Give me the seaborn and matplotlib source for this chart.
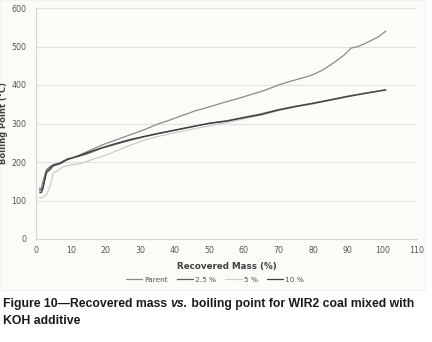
import matplotlib
matplotlib.use('Agg')
import matplotlib.pyplot as plt
import matplotlib.patches as mpatches
import pandas as pd
import seaborn as sns

# Recovered mass (%) and boiling point (degC) for each sample
parent_x = [1, 1.5, 2, 3, 4, 5, 7, 9, 12, 15, 19, 23, 27, 31, 35, 38, 42, 46, 50, 54, 58, 62, 66, 70, 74, 78, 80, 83, 86, 89, 91, 93, 96, 99, 101]
parent_y = [132, 130, 150, 180, 188, 192, 196, 206, 216, 228, 244, 257, 270, 283, 298, 307, 320, 333, 343, 354, 364, 375, 386, 400, 411, 421, 427, 440, 458, 478, 496, 500, 512, 526, 540]

koh25_x = [1, 1.5, 2, 3, 4, 5, 7, 9, 12, 15, 19, 23, 27, 31, 35, 40, 45, 50, 55, 60, 65, 70, 75, 80, 85, 90, 95, 101]
koh25_y = [128, 126, 135, 176, 185, 193, 198, 208, 214, 222, 236, 246, 256, 265, 273, 282, 291, 301, 307, 316, 325, 336, 345, 353, 362, 371, 379, 388]

koh5_x = [1, 2, 3, 4, 5, 6, 8, 10, 13, 16, 19, 23, 27, 31, 35, 40, 45, 50, 55, 60, 65, 70, 75, 80, 85, 90, 95, 101]
koh5_y = [107, 108, 115, 135, 172, 176, 188, 192, 196, 206, 214, 228, 243, 256, 266, 276, 285, 294, 302, 312, 322, 333, 343, 351, 360, 369, 378, 387]

koh10_x = [1, 1.5, 2, 3, 4, 5, 7, 9, 12, 15, 19, 23, 27, 31, 35, 40, 45, 50, 55, 60, 65, 70, 75, 80, 85, 90, 95, 101]
koh10_y = [122, 120, 130, 172, 180, 190, 196, 206, 215, 225, 237, 248, 258, 266, 274, 283, 292, 300, 306, 315, 323, 335, 344, 352, 361, 370, 378, 387]

series_names = ['Parent', '2.5 %', '5 %', '10 %']
series_colors = ['#8a8a8a', '#5c5c5c', '#cdcdcd', '#3e3e3e']

frames = []
for name, xs, ys in zip(series_names, [parent_x, koh25_x, koh5_x, koh10_x],
                        [parent_y, koh25_y, koh5_y, koh10_y]):
    frames.append(pd.DataFrame({'mass': xs, 'bp': ys, 'sample': name}))
df = pd.concat(frames, ignore_index=True)

sns.set_style('white')
plt.rcParams['font.family'] = ['DejaVu Sans']

fig = plt.figure(figsize=(4.32, 3.42), dpi=100)
fig.patch.set_facecolor('white')
# light chart-area panel behind the plot
panel = mpatches.Rectangle((0, 52 / 342), 425 / 432, 1 - 52 / 342,
                           transform=fig.transFigure, facecolor='#fbfbf8',
                           edgecolor='#f0f0ee', lw=0.5, zorder=-10)
fig.add_artist(panel)

ax = fig.add_axes([36 / 432, 1 - 239 / 342, (417 - 36) / 432, (239 - 8) / 342])
ax.set_facecolor('#fbfbf8')

sns.lineplot(data=df, x='mass', y='bp', hue='sample', hue_order=series_names,
             palette=series_colors, estimator=None, sort=False, lw=0.9, ax=ax)

ax.set_xlim(0, 110)
ax.set_ylim(0, 600)
ax.set_xticks(range(0, 111, 10))
ax.set_yticks(range(0, 601, 100))
ax.yaxis.grid(True, color='#e3e3e3', lw=0.8)
ax.set_axisbelow(True)
for s in ['top', 'right']:
    ax.spines[s].set_visible(False)
for s in ['left', 'bottom']:
    ax.spines[s].set_color('#d6d6d6')
    ax.spines[s].set_linewidth(0.8)
ax.tick_params(axis='both', labelsize=5.7, labelcolor='#555555', color='#d6d6d6',
               length=3, width=0.6, direction='out', pad=2)
ax.tick_params(axis='y', pad=4)
ax.set_xlabel('Recovered Mass (%)', fontsize=6.3, fontweight='bold', color='#404040', labelpad=5)
ax.set_ylabel('Boiling Point (\u00b0C)', fontsize=6.0, fontweight='bold', color='#404040', labelpad=2)

ax.legend(loc='upper center', bbox_to_anchor=(0.47, -0.135), ncol=4, frameon=False,
          fontsize=5.3, handlelength=2.2, handletextpad=0.3, columnspacing=1.2,
          labelcolor='#555555')

cap = dict(fontsize=8.8, fontweight='bold', color='#1a1a1a', family='Liberation Sans')
t1 = fig.text(3 / 432, 1 - 310 / 342, 'Figure 10\u2014Recovered mass ', va='bottom', **cap)
t2 = fig.text(0, 0, 'vs.', va='bottom', style='italic', **cap)
fig.canvas.draw()
bb = t1.get_window_extent()
t2.set_x(bb.x1 / fig.bbox.width)
t2.set_y(bb.y0 / fig.bbox.height)
bb2 = t2.get_window_extent()
fig.text(bb2.x1 / fig.bbox.width, bb.y0 / fig.bbox.height,
         ' boiling point for WIR2 coal mixed with', va='bottom', **cap)
fig.text(3 / 432, 1 - 327 / 342, 'KOH additive', va='bottom', **cap)

fig.savefig('out.png', dpi=100, facecolor='white')
